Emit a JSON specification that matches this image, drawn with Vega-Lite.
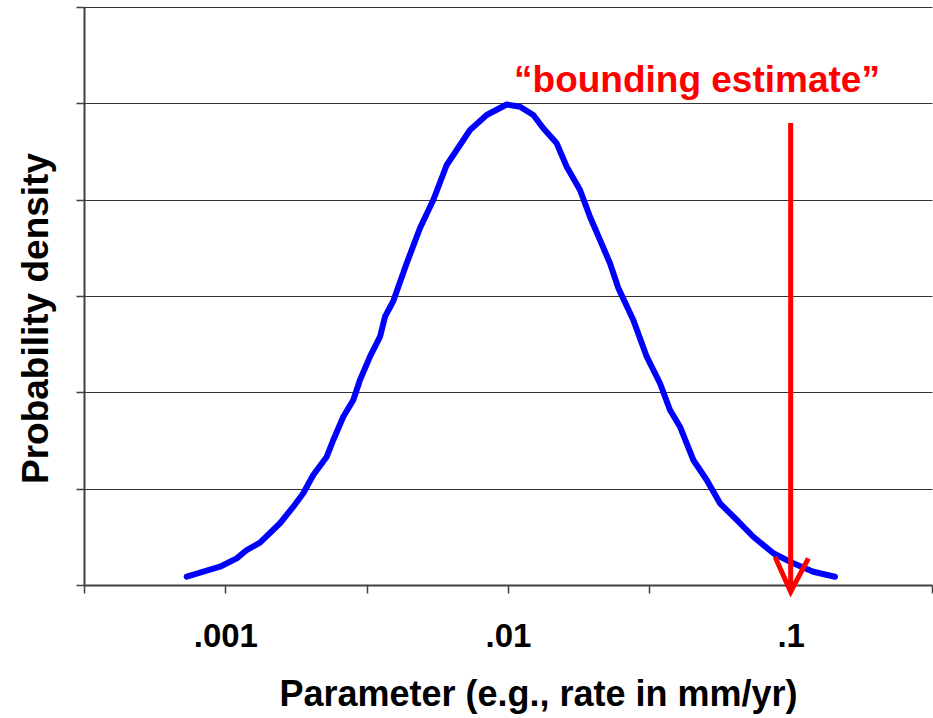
{
  "$schema": "https://vega.github.io/schema/vega-lite/v6.json",
  "width": 848,
  "height": 578,
  "autosize": {"type": "none"},
  "padding": {"left": 84, "top": 7, "right": 1, "bottom": 133},
  "background": "white",
  "config": {"view": {"stroke": null}, "font": "Liberation Sans"},
  "datasets": {
    "curve": [
      {"rate": 0.000730, "density": 0.086},
      {"rate": 0.000814, "density": 0.128},
      {"rate": 0.000957, "density": 0.190},
      {"rate": 0.001097, "density": 0.277},
      {"rate": 0.001190, "density": 0.363},
      {"rate": 0.001326, "density": 0.439},
      {"rate": 0.001561, "density": 0.641},
      {"rate": 0.001740, "density": 0.813},
      {"rate": 0.001887, "density": 0.952},
      {"rate": 0.002047, "density": 1.142},
      {"rate": 0.002284, "density": 1.332},
      {"rate": 0.002410, "density": 1.505},
      {"rate": 0.002614, "density": 1.747},
      {"rate": 0.002836, "density": 1.920},
      {"rate": 0.002995, "density": 2.128},
      {"rate": 0.003249, "density": 2.370},
      {"rate": 0.003526, "density": 2.578},
      {"rate": 0.003672, "density": 2.785},
      {"rate": 0.003929, "density": 2.948},
      {"rate": 0.004381, "density": 3.340},
      {"rate": 0.004884, "density": 3.706},
      {"rate": 0.005441, "density": 3.997},
      {"rate": 0.006069, "density": 4.360},
      {"rate": 0.007338, "density": 4.723},
      {"rate": 0.008405, "density": 4.879},
      {"rate": 0.009894, "density": 4.988},
      {"rate": 0.01103, "density": 4.965},
      {"rate": 0.01229, "density": 4.879},
      {"rate": 0.01333, "density": 4.741},
      {"rate": 0.01487, "density": 4.585},
      {"rate": 0.01613, "density": 4.342},
      {"rate": 0.01798, "density": 4.100},
      {"rate": 0.01950, "density": 3.823},
      {"rate": 0.02116, "density": 3.581},
      {"rate": 0.02295, "density": 3.340},
      {"rate": 0.02456, "density": 3.083},
      {"rate": 0.02775, "density": 2.751},
      {"rate": 0.03096, "density": 2.370},
      {"rate": 0.03449, "density": 2.094},
      {"rate": 0.03742, "density": 1.817},
      {"rate": 0.04059, "density": 1.643},
      {"rate": 0.04524, "density": 1.298},
      {"rate": 0.05046, "density": 1.090},
      {"rate": 0.05623, "density": 0.848},
      {"rate": 0.06444, "density": 0.675},
      {"rate": 0.07377, "density": 0.501},
      {"rate": 0.08684, "density": 0.329},
      {"rate": 0.1022, "density": 0.225},
      {"rate": 0.1202, "density": 0.138},
      {"rate": 0.1435, "density": 0.086}
    ],
    "arrow": [{"rate": 0.1, "density": 4.796, "density2": -0.07}],
    "head": [
      {"rate": 0.0880, "density": 0.294},
      {"rate": 0.1, "density": -0.07},
      {"rate": 0.1155, "density": 0.277}
    ],
    "label": [{"rate": 0.04662, "density": 5.118, "text": "“bounding estimate”"}]
  },
  "encoding": {
    "x": {
      "field": "rate",
      "type": "quantitative",
      "scale": {"type": "log", "domain": [0.000316228, 0.316228], "nice": false},
      "axis": {
        "values": [0.000316228, 0.001, 0.00316228, 0.01, 0.0316228, 0.1, 0.316228],
        "labelExpr": "abs(datum.value-0.001)<0.000001 ? '.001' : abs(datum.value-0.01)<0.00001 ? '.01' : abs(datum.value-0.1)<0.0001 ? '.1' : ''",
        "labelFont": "Liberation Sans",
        "labelFontSize": 33,
        "labelFontWeight": "bold",
        "labelColor": "#000000",
        "labelBaseline": "alphabetic",
        "labelPadding": 53,
        "labelFlush": false,
        "labelOverlap": false,
        "tickSize": 8,
        "tickColor": "#404040",
        "tickWidth": 1.5,
        "domainColor": "#404040",
        "domainWidth": 2,
        "grid": false,
        "title": "Parameter (e.g., rate in mm/yr)",
        "titleFont": "Liberation Sans",
        "titleFontSize": 36,
        "titleFontWeight": "bold",
        "titleColor": "#000000",
        "titleX": 454,
        "titleY": 120,
        "titleAlign": "center",
        "titleBaseline": "alphabetic"
      }
    },
    "y": {
      "field": "density",
      "type": "quantitative",
      "scale": {"domain": [0, 6], "nice": false, "zero": true},
      "axis": {
        "values": [0, 1, 2, 3, 4, 5, 6],
        "labels": false,
        "tickSize": 8,
        "tickColor": "#404040",
        "tickWidth": 1.5,
        "domainColor": "#404040",
        "domainWidth": 2,
        "grid": true,
        "gridColor": "#333333",
        "gridWidth": 1,
        "title": "Probability density",
        "titleFont": "Liberation Sans",
        "titleFontSize": 37,
        "titleFontWeight": "bold",
        "titleColor": "#000000",
        "titleAngle": -90,
        "titleX": -37,
        "titleY": 311,
        "titleAlign": "center",
        "titleBaseline": "alphabetic"
      }
    }
  },
  "layer": [
    {
      "data": {"name": "curve"},
      "mark": {"type": "line", "color": "#0000FF", "strokeWidth": 6, "strokeCap": "round", "strokeJoin": "round"}
    },
    {
      "data": {"name": "arrow"},
      "mark": {"type": "rule", "color": "#FF0000", "strokeWidth": 5},
      "encoding": {"y2": {"field": "density2"}}
    },
    {
      "data": {"name": "head"},
      "mark": {"type": "line", "color": "#FF0000", "strokeWidth": 5, "strokeJoin": "miter", "strokeCap": "butt"}
    },
    {
      "data": {"name": "label"},
      "mark": {"type": "text", "color": "#FF0000", "font": "Liberation Sans", "fontSize": 37, "fontWeight": "bold", "align": "center", "baseline": "alphabetic"},
      "encoding": {"text": {"field": "text"}}
    }
  ]
}
